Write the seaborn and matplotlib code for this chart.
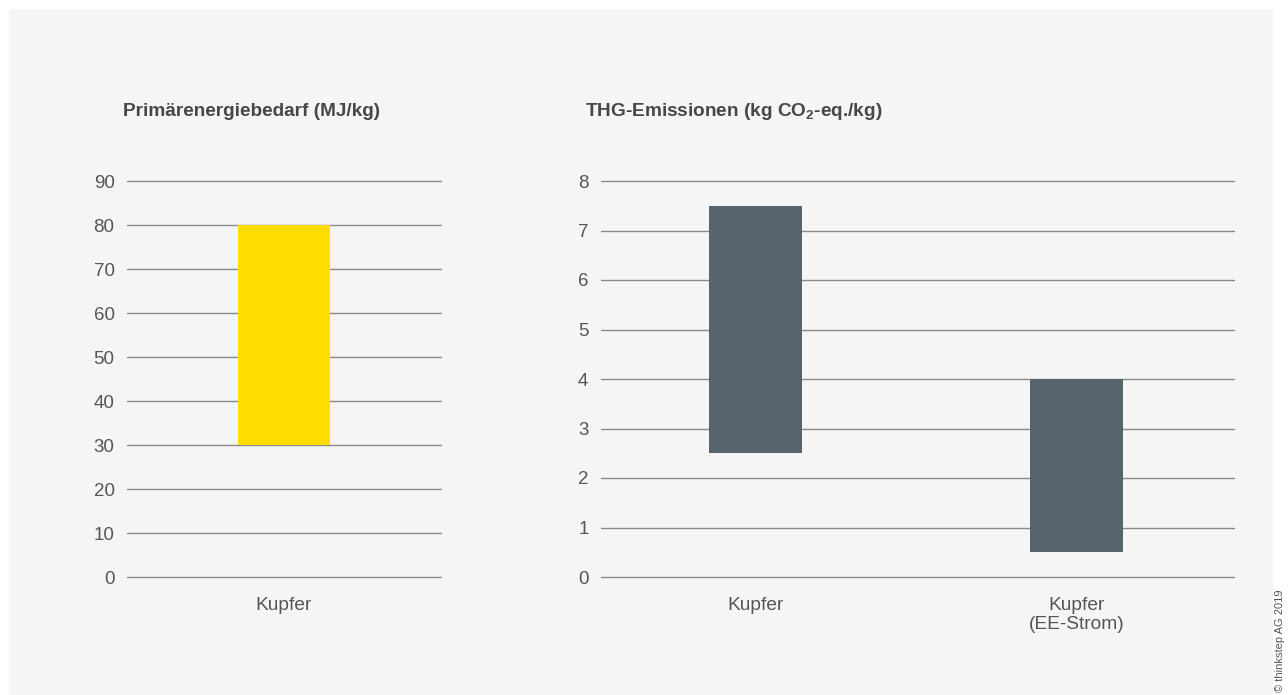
import matplotlib
matplotlib.use("Agg")
import matplotlib.pyplot as plt
import seaborn as sns
import pandas as pd
from matplotlib.patches import Rectangle

# ---- data ----
left_categories = ["Kupfer"]
left_low = [30]
left_high = [80]
left_ticks = [0, 10, 20, 30, 40, 50, 60, 70, 80, 90]

right_categories = ["Kupfer", "Kupfer\n(EE-Strom)"]
right_low = [2.5, 0.5]
right_high = [7.5, 4.0]
right_ticks = [0, 1, 2, 3, 4, 5, 6, 7, 8]

left_title = "Primärenergiebedarf (MJ/kg)"
right_title = r"THG-Emissionen (kg CO$_{\mathbf{2}}$-eq./kg)"
copyright_text = "© thinkstep AG 2019"

YELLOW = "#FFDD00"
SLATE = "#56646C"
BG = "#F5F5F5"
GRID = "#8A8A8A"
TXT = "#555555"
TITLE = "#474747"

sns.set_theme(style="white")
plt.rcParams["font.family"] = ["Liberation Sans", "DejaVu Sans"]
plt.rcParams["mathtext.fontset"] = "custom"
plt.rcParams["mathtext.rm"] = "Liberation Sans"
plt.rcParams["mathtext.bf"] = "Liberation Sans:bold"

W, H = 1288, 695
fig = plt.figure(figsize=(W / 100, H / 100), dpi=100)
fig.patch.set_facecolor("white")
bg = Rectangle((9 / W, 0), (1273 - 9) / W, (H - 9) / H,
               transform=fig.transFigure, facecolor=BG,
               edgecolor="none", zorder=-10)
fig.patches.append(bg)


def px_axes(x0, x1, ytop, ybot):
    return fig.add_axes([x0 / W, (H - ybot) / H, (x1 - x0) / W, (ybot - ytop) / H])


def style(ax, ticks):
    ax.set_facecolor("none")
    for s in ax.spines.values():
        s.set_visible(False)
    ax.set_yticks(ticks)
    ax.set_ylim(ticks[0], ticks[-1])
    ax.yaxis.grid(True, color=GRID, linewidth=1.0)
    ax.set_axisbelow(True)
    for gl in ax.get_ygridlines():
        gl.set_clip_on(False)
    ax.tick_params(axis="y", length=0, pad=9, labelsize=13.5, labelcolor=TXT)
    ax.tick_params(axis="x", length=0, pad=14.5, labelsize=13.8, labelcolor=TXT)
    ax.set_xlabel("")
    ax.set_ylabel("")


# left panel
ax1 = px_axes(127, 441, 181, 577)
df1 = pd.DataFrame({"cat": left_categories,
                    "h": [hi - lo for hi, lo in zip(left_high, left_low)]})
sns.barplot(data=df1, x="cat", y="h", ax=ax1, color=YELLOW, saturation=1,
            width=0.29, bottom=left_low, edgecolor="none", linewidth=0)
ax1.set_xlim(-0.5, 0.5)
style(ax1, left_ticks)

# right panel
ax2 = px_axes(601, 1234, 181, 577)
df2 = pd.DataFrame({"cat": right_categories,
                    "h": [hi - lo for hi, lo in zip(right_high, right_low)]})
sns.barplot(data=df2, x="cat", y="h", ax=ax2, color=SLATE, saturation=1,
            width=0.29, bottom=right_low, edgecolor="none", linewidth=0)
ax2.set_xlim(-0.48, 1.49)
style(ax2, right_ticks)
for lab in ax2.get_xticklabels():
    lab.set_linespacing(1.15)

fig.text(123 / W, 1 - 111 / H, left_title, fontsize=13.7, fontweight="bold",
         color=TITLE, ha="left", va="center")
fig.text(585 / W, 1 - 111 / H, right_title, fontsize=13.7, fontweight="bold",
         color=TITLE, ha="left", va="center")
fig.text(1280 / W, 1 - 692 / H, copyright_text, fontsize=8, color=TXT,
         rotation=90, ha="center", va="bottom")

fig.savefig("out.png", dpi=100, facecolor="white")
